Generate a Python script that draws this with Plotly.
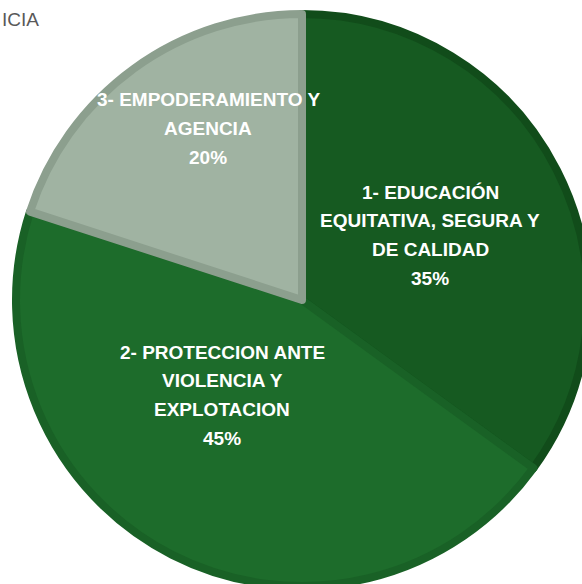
import plotly.graph_objects as go

# ---- data ----
labels = ["1- EDUCACIÓN EQUITATIVA, SEGURA Y DE CALIDAD",
          "2- PROTECCION ANTE VIOLENCIA Y EXPLOTACION",
          "3- EMPODERAMIENTO Y AGENCIA"]
values = [35, 45, 20]
label_lines = [["1- EDUCACIÓN", "EQUITATIVA, SEGURA Y", "DE CALIDAD"],
               ["2- PROTECCION ANTE", "VIOLENCIA Y", "EXPLOTACION"],
               ["3- EMPODERAMIENTO Y", "AGENCIA"]]
title_text = "ICIA"

# ---- style ----
fill_colors = ["#165a21", "#1d6c2b", "#a0b3a2"]
line_colors = ["#114c1a", "#196126", "#8c9f8e"]
W = H = 620
LW = 8
cx, cy, R = 302, 300, 290
r0 = R - LW / 2

def px(x):
    return x / W

def py(y):
    return (H - y) / H

fig = go.Figure(go.Pie(
    labels=labels, values=values, sort=False, direction="clockwise", rotation=0,
    marker=dict(colors=fill_colors, line=dict(color=line_colors, width=LW)),
    textinfo="none", hoverinfo="skip", showlegend=False,
    domain=dict(x=[px(cx - r0), px(cx + r0)], y=[py(cy + r0), py(cy - r0)]),
))

# label anchor positions (pixels, center of first line) and line spacing
label_pos = [(430, 192), (222, 352), (208, 100)]
spacing = 28.7
annotations = []
for lines, val, (lx, ly) in zip(label_lines, values, label_pos):
    for i, t in enumerate(lines + [f"{val}%"]):
        annotations.append(dict(
            x=px(lx), y=py(ly + i * spacing), xref="paper", yref="paper",
            text=t, showarrow=False, xanchor="center", yanchor="middle",
            font=dict(family="Liberation Sans, Arial", size=19, color="white", weight="bold"),
        ))
annotations.append(dict(
    x=px(0), y=py(20), xref="paper", yref="paper", text=title_text,
    showarrow=False, xanchor="left", yanchor="middle",
    font=dict(family="Liberation Sans, Arial", size=19, color="#595959"),
))

fig.update_layout(
    width=W, height=H, margin=dict(l=0, r=0, t=0, b=0),
    paper_bgcolor="white", plot_bgcolor="white",
    annotations=annotations,
)

fig.write_html("out.html", config={"displayModeBar": False},
               post_script="document.body.style.margin='0';document.body.style.overflow='hidden';")
